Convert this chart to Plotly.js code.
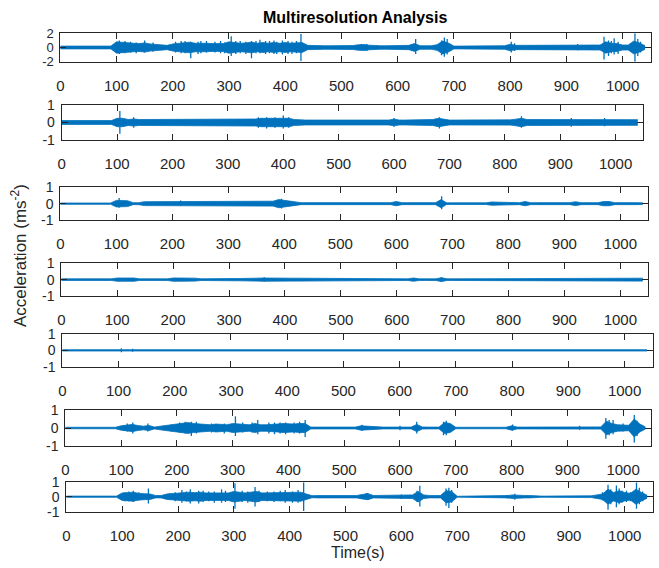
<!DOCTYPE html>
<html>
<head>
<meta charset="utf-8">
<script src="https://cdn.plot.ly/plotly-3.0.1.min.js"></script>
<style>html,body{margin:0;padding:0;background:#fff;}#chart{width:659px;height:568px;}</style>
</head>
<body>
<div id="chart"></div>
<script>
// ---- Data (envelope amplitude every 10 s, from t = 0 to 1040 s) ----
const chartTitle = "Multiresolution Analysis";
const xLabel = "Time(s)";
const yLabel = "Acceleration (ms<sup>-2</sup>)";
const xTicks = [0,100,200,300,400,500,600,700,800,900,1000];
const sampleStep = 10;

const env1 = [0.2,0.2,0.2,0.2,0.2,0.2,0.2,0.2,0.2,0.2,
 0.8,0.7,0.65,0.6,0.55,0.65,0.5,0.4,0.3,0.3,
 0.5,0.6,0.7,0.75,0.6,0.65,0.6,0.55,0.6,0.55,
 0.8,0.7,0.6,0.65,0.75,0.6,0.7,0.6,0.7,0.6,
 0.7,0.6,0.7,0.7,0.3,0.25,0.25,0.25,0.25,0.25,
 0.25,0.25,0.28,0.38,0.42,0.32,0.25,0.25,0.25,0.25,
 0.25,0.25,0.3,0.55,0.25,0.25,0.25,0.4,0.9,0.65,
 0.2,0.2,0.2,0.2,0.22,0.25,0.25,0.25,0.25,0.25,
 0.45,0.3,0.3,0.3,0.25,0.25,0.25,0.25,0.25,0.25,
 0.25,0.25,0.3,0.25,0.25,0.25,0.35,0.8,0.6,0.55,
 0.35,0.35,0.9,0.65,0.25];
const env2 = [0.11,0.11,0.11,0.11,0.11,0.11,0.11,0.11,0.11,0.11,
 0.24,0.24,0.17,0.2,0.17,0.17,0.17,0.17,0.17,0.17,
 0.18,0.18,0.18,0.18,0.18,0.18,0.18,0.18,0.18,0.18,
 0.18,0.18,0.18,0.18,0.18,0.2,0.24,0.24,0.24,0.26,
 0.28,0.24,0.17,0.14,0.14,0.14,0.14,0.14,0.14,0.14,
 0.14,0.14,0.14,0.14,0.14,0.14,0.14,0.14,0.14,0.14,
 0.19,0.14,0.14,0.14,0.14,0.14,0.14,0.17,0.24,0.17,
 0.14,0.14,0.14,0.14,0.14,0.14,0.14,0.14,0.14,0.14,
 0.14,0.15,0.19,0.24,0.17,0.17,0.17,0.17,0.17,0.17,
 0.17,0.17,0.2,0.17,0.17,0.17,0.17,0.19,0.19,0.17,
 0.17,0.17,0.17,0.17,0.16];
const env3 = [0.04,0.04,0.04,0.04,0.04,0.04,0.04,0.04,0.04,0.04,
 0.2,0.2,0.18,0.06,0.06,0.12,0.12,0.12,0.12,0.12,
 0.12,0.15,0.12,0.12,0.12,0.12,0.12,0.12,0.12,0.12,
 0.12,0.12,0.12,0.12,0.12,0.12,0.12,0.12,0.15,0.25,
 0.2,0.15,0.12,0.06,0.06,0.06,0.06,0.06,0.06,0.06,
 0.06,0.06,0.06,0.06,0.06,0.06,0.06,0.06,0.06,0.06,
 0.13,0.06,0.06,0.06,0.06,0.06,0.06,0.06,0.25,0.05,
 0.05,0.05,0.05,0.05,0.05,0.05,0.05,0.1,0.1,0.06,
 0.06,0.06,0.06,0.13,0.06,0.06,0.06,0.06,0.06,0.06,
 0.06,0.06,0.12,0.06,0.06,0.06,0.06,0.13,0.13,0.06,
 0.06,0.06,0.1,0.06,0.05];
const env4 = [0.05,0.05,0.05,0.05,0.05,0.05,0.05,0.05,0.05,0.05,
 0.1,0.1,0.1,0.1,0.05,0.06,0.05,0.06,0.05,0.05,
 0.1,0.1,0.1,0.1,0.09,0.05,0.06,0.06,0.06,0.07,
 0.07,0.07,0.07,0.09,0.09,0.09,0.1,0.09,0.09,0.09,
 0.09,0.09,0.09,0.09,0.05,0.05,0.05,0.05,0.05,0.05,
 0.05,0.05,0.05,0.05,0.05,0.05,0.05,0.05,0.05,0.05,
 0.05,0.05,0.05,0.1,0.05,0.05,0.05,0.05,0.12,0.05,
 0.05,0.05,0.05,0.05,0.05,0.05,0.05,0.05,0.05,0.05,
 0.09,0.09,0.09,0.09,0.09,0.05,0.05,0.05,0.05,0.05,
 0.05,0.05,0.08,0.05,0.05,0.05,0.05,0.09,0.09,0.09,
 0.05,0.05,0.09,0.09,0.09];
const env5 = [0.04,0.04,0.04,0.04,0.04,0.04,0.04,0.04,0.04,0.04,
 0.08,0.08,0.07,0.04,0.04,0.04,0.04,0.04,0.04,0.04,
 0.06,0.06,0.06,0.06,0.06,0.06,0.04,0.04,0.04,0.04,
 0.07,0.04,0.05,0.05,0.05,0.05,0.05,0.05,0.06,0.06,
 0.06,0.06,0.06,0.04,0.04,0.04,0.04,0.04,0.04,0.04,
 0.04,0.04,0.04,0.04,0.04,0.04,0.04,0.04,0.04,0.04,
 0.04,0.04,0.04,0.04,0.04,0.04,0.04,0.04,0.08,0.04,
 0.04,0.04,0.04,0.04,0.04,0.04,0.04,0.04,0.04,0.04,
 0.04,0.04,0.05,0.07,0.04,0.04,0.04,0.04,0.04,0.04,
 0.04,0.04,0.04,0.04,0.04,0.04,0.05,0.06,0.06,0.05,
 0.04,0.04,0.07,0.07,0.04];
const env6 = [0.04,0.04,0.04,0.04,0.04,0.04,0.04,0.04,0.04,0.04,
 0.12,0.18,0.2,0.14,0.1,0.14,0.05,0.1,0.12,0.18,
 0.22,0.25,0.3,0.25,0.22,0.18,0.18,0.22,0.18,0.18,
 0.25,0.22,0.18,0.18,0.25,0.18,0.18,0.22,0.22,0.25,
 0.22,0.22,0.25,0.25,0.05,0.05,0.05,0.05,0.05,0.05,
 0.05,0.05,0.05,0.12,0.1,0.05,0.06,0.05,0.05,0.05,
 0.08,0.05,0.05,0.2,0.06,0.05,0.05,0.05,0.3,0.25,
 0.04,0.04,0.04,0.04,0.04,0.04,0.04,0.04,0.04,0.04,
 0.12,0.05,0.05,0.05,0.05,0.05,0.05,0.05,0.05,0.05,
 0.05,0.05,0.08,0.06,0.06,0.06,0.06,0.38,0.25,0.18,
 0.18,0.15,0.5,0.22,0.06];
const env7 = [0.04,0.04,0.04,0.04,0.04,0.04,0.04,0.04,0.04,0.04,
 0.25,0.27,0.3,0.22,0.22,0.18,0.08,0.08,0.18,0.22,
 0.27,0.3,0.3,0.27,0.3,0.25,0.25,0.25,0.3,0.25,
 0.35,0.3,0.25,0.3,0.35,0.25,0.25,0.25,0.25,0.3,
 0.25,0.25,0.3,0.18,0.07,0.08,0.08,0.08,0.08,0.08,
 0.08,0.08,0.08,0.15,0.2,0.08,0.08,0.08,0.08,0.08,
 0.12,0.1,0.12,0.35,0.12,0.08,0.08,0.08,0.4,0.35,
 0.03,0.03,0.03,0.03,0.03,0.08,0.08,0.08,0.08,0.08,
 0.12,0.08,0.08,0.08,0.04,0.04,0.04,0.04,0.04,0.04,
 0.04,0.04,0.04,0.04,0.06,0.12,0.18,0.5,0.28,0.4,
 0.28,0.22,0.5,0.28,0.1];

// ---- Data: individual peaks (time, positive peak, negative peak) ----
const peakT1 = [105,115,125,135,150,165,205,215,222,232,245,250,260,275,285,292,304,312,320,330,340,348,355,365,372,380,385,395,405,412,420,428,535,545,625,632,678,683,688,802,808,920,967,975,980,985,992,1022,1027,1032];
const peakUp1 = [1.0,0.9,0.8,0.7,1.0,0.7,0.8,0.9,0.9,0.8,0.8,0.9,0.9,0.8,0.9,0.7,1.6,0.9,0.9,0.8,0.9,0.9,1.1,0.9,0.9,1.0,0.8,1.0,0.9,0.8,0.9,1.9,0.5,0.5,0.5,1.2,1.0,1.4,1.2,0.8,0.6,0.5,1.5,1.0,0.9,1.3,0.8,2.0,1.2,0.8];
const peakDn1 = [-0.9,-0.8,-0.7,-0.8,-0.7,-0.6,-0.7,-0.8,-0.8,-1.5,-0.9,-0.8,-0.7,-0.7,-0.8,-0.8,-1.2,-0.9,-0.8,-0.9,-1.5,-0.8,-0.8,-0.9,-0.8,-0.9,-0.9,-1.0,-0.9,-0.9,-0.8,-1.9,-0.4,-0.5,-0.4,-0.9,-1.1,-1.3,-1.0,-0.7,-0.5,-0.4,-1.7,-1.2,-0.8,-1.0,-0.9,-2.0,-1.2,-0.7];
const peakT2 = [105,130,355,370,385,400,410,600,682,830,920,980];
const peakUp2 = [0.65,0.3,0.3,0.3,0.3,0.4,0.3,0.25,0.3,0.35,0.25,0.25];
const peakDn2 = [-0.65,-0.3,-0.3,-0.35,-0.3,-0.35,-0.3,-0.25,-0.35,-0.3,-0.25,-0.22];
const peakT3 = [105,215,395,681];
const peakUp3 = [0.35,0.2,0.3,0.45];
const peakDn3 = [-0.25,-0.15,-0.3,-0.35];
const peakT4 = [363,680];
const peakUp4 = [0.14,0.14];
const peakDn4 = [-0.12,-0.12];
const peakT5 = [105,125];
const peakUp5 = [0.13,0.1];
const peakDn5 = [-0.11,-0.08];
const peakT6 = [105,111,121,148,190,205,215,226,235,262,285,305,318,335,345,365,375,385,395,410,420,430,532,600,630,678,683,802,922,969,975,982,1000,1020,1025];
const peakUp6 = [0.15,0.25,0.3,0.25,0.2,0.3,0.35,0.35,0.35,0.25,0.25,0.65,0.3,0.3,0.45,0.3,0.3,0.3,0.3,0.3,0.35,0.45,0.18,0.12,0.35,0.35,0.4,0.2,0.12,0.55,0.45,0.45,0.25,0.72,0.4];
const peakDn6 = [-0.15,-0.2,-0.3,-0.2,-0.2,-0.25,-0.3,-0.45,-0.3,-0.25,-0.3,-0.45,-0.25,-0.25,-0.35,-0.3,-0.35,-0.3,-0.35,-0.3,-0.3,-0.5,-0.15,-0.12,-0.3,-0.4,-0.4,-0.15,-0.1,-0.6,-0.4,-0.35,-0.2,-0.8,-0.45];
const peakT7 = [105,112,120,130,147,185,195,207,215,222,237,245,255,265,278,285,302,315,325,338,345,360,372,383,392,405,415,425,537,540,600,628,633,680,685,690,790,803,960,970,975,985,990,995,1003,1010,1021,1026,1032];
const peakUp7 = [0.3,0.35,0.4,0.3,0.55,0.25,0.3,0.45,0.35,0.5,0.4,0.4,0.35,0.35,0.5,0.4,0.9,0.4,0.35,0.65,0.4,0.35,0.35,0.4,0.45,0.35,0.45,0.95,0.25,0.25,0.15,0.4,0.73,0.55,0.6,0.45,0.12,0.2,0.3,0.8,0.5,0.75,0.55,0.4,0.4,0.3,0.95,0.6,0.35];
const peakDn7 = [-0.3,-0.3,-0.35,-0.25,-0.45,-0.2,-0.3,-0.4,-0.3,-0.45,-0.45,-0.35,-0.3,-0.4,-0.4,-0.35,-0.8,-0.35,-0.4,-0.65,-0.35,-0.3,-0.35,-0.3,-0.4,-0.4,-0.4,-0.95,-0.2,-0.2,-0.15,-0.35,-0.65,-0.6,-0.75,-0.4,-0.12,-0.2,-0.25,-0.87,-0.5,-0.7,-0.5,-0.4,-0.35,-0.3,-0.8,-0.5,-0.3];

const yRanges = [[-2,2],[-1,1],[-1,1],[-1,1],[-1,1],[-1,1],[-1,1]];
const yTickSets = [[-2,0,2],[-1,0,1],[-1,0,1],[-1,0,1],[-1,0,1],[-1,0,1],[-1,0,1]];

// ---- Layout geometry (pixels) ----
const W = 659, H = 568;
const boxes = [
  [60.3,650.7,33.3,61.7],
  [61.7,643.3,105,140],
  [60.3,648.3,187.3,220],
  [61.3,648.3,263.3,296],
  [62.3,652.7,334,366.7],
  [65.3,651,410,446],
  [66.3,652.7,481.7,511.7]
];

const envs = [env1,env2,env3,env4,env5,env6,env7];
const peaks = [[peakT1,peakUp1,peakDn1],[peakT2,peakUp2,peakDn2],[peakT3,peakUp3,peakDn3],
  [peakT4,peakUp4,peakDn4],[peakT5,peakUp5,peakDn5],[peakT6,peakUp6,peakDn6],[peakT7,peakUp7,peakDn7]];

const blue = '#0072BD';
const ink = '#262626';
const narrow = '"Liberation Sans Narrow", "Arial Narrow", "Liberation Sans", Arial, sans-serif';
const xTickFont = {family:narrow, size:15, color:ink};

const traces = [];
const layout = {
  width: W, height: H,
  margin:{l:0,r:0,t:0,b:0},
  paper_bgcolor:'#ffffff', plot_bgcolor:'#ffffff',
  showlegend:false,
  annotations:[
    {text:'<b>'+chartTitle+'</b>', xref:'paper', yref:'paper', x:355/W, y:1-18/H, xanchor:'center', yanchor:'middle', showarrow:false,
     font:{family:narrow, size:16, color:'#000'}},
    {text:xLabel, xref:'paper', yref:'paper', x:358/W, y:1-552/H, xanchor:'center', yanchor:'middle', showarrow:false,
     font:{family:'"Liberation Sans", Arial, sans-serif', size:16, color:ink}},
    {text:yLabel, xref:'paper', yref:'paper', x:19/W, y:1-256/H, xanchor:'center', yanchor:'middle', showarrow:false, textangle:-90,
     font:{family:'"Liberation Sans", Arial, sans-serif', size:17, color:ink}}
  ]
};

envs.forEach((env, k) => {
  const n = k+1;
  const xa = n===1 ? 'x' : 'x'+n;
  const ya = n===1 ? 'y' : 'y'+n;
  const t = env.map((_, i) => i*sampleStep);
  traces.push({x:t, y:env.map(v=>v), xaxis:xa, yaxis:ya, type:'scatter', mode:'lines',
    line:{color:blue, width:0.8}, hoverinfo:'skip'});
  traces.push({x:t, y:env.map(v=>-v), xaxis:xa, yaxis:ya, type:'scatter', mode:'lines',
    fill:'tonexty', fillcolor:blue, line:{color:blue, width:0.8}, hoverinfo:'skip'});
  const [pt, pu, pd] = peaks[k];
  const sx = [], sy = [];
  pt.forEach((tt, i) => { sx.push(tt, tt, null); sy.push(pu[i], pd[i], null); });
  traces.push({x:sx, y:sy, xaxis:xa, yaxis:ya, type:'scatter', mode:'lines',
    line:{color:blue, width:1.3}, hoverinfo:'skip', connectgaps:false});

  const b = boxes[k];
  layout['xaxis'+(n===1?'':n)] = {
    domain:[b[0]/W, b[1]/W], anchor:ya, range:[0,1050],
    tickmode:'array', tickvals:xTicks, ticktext:xTicks.map(String),
    ticks:'inside', ticklen:6, tickwidth:1, tickcolor:ink,
    showline:true, linecolor:ink, linewidth:1, mirror:'allticks',
    showgrid:false, zeroline:false, tickfont:xTickFont, ticklabelstandoff:10,
    automargin:false, fixedrange:true
  };
  layout['yaxis'+(n===1?'':n)] = {
    domain:[1-b[3]/H, 1-b[2]/H], anchor:xa, range:yRanges[k],
    tickmode:'array', tickvals:yTickSets[k], ticktext:yTickSets[k].map(String),
    ticks:'inside', ticklen:6, tickwidth:1, tickcolor:ink,
    showline:true, linecolor:ink, linewidth:1, mirror:'allticks',
    showgrid:false, zeroline:false, tickfont:{family:narrow, size:(n===1?13:14), color:ink}, ticklabelstandoff:3,
    automargin:false, fixedrange:true
  };
});

Plotly.newPlot('chart', traces, layout, {staticPlot:true, displayModeBar:false});
</script>
</body>
</html>
